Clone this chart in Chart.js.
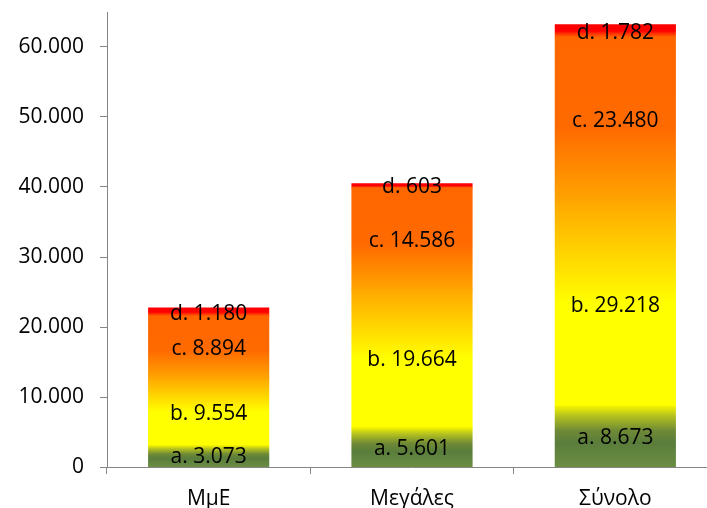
<!DOCTYPE html>
<html>
<head>
<meta charset="utf-8">
<script src="https://cdn.jsdelivr.net/npm/chart.js@4/dist/chart.umd.min.js"></script>
<style>
  html, body { margin: 0; padding: 0; background: #ffffff; overflow: hidden; width: 707px; height: 508px; }
  #wrap { width: 717px; height: 508px; }
</style>
</head>
<body>
<div id="wrap"><canvas id="chart" width="717" height="508"></canvas></div>
<script>
// Categories and stacked components (a..d)
const categories = ['ΜμΕ', 'Μεγάλες', 'Σύνολο'];
const seriesNames = ['a', 'b', 'c', 'd'];
const seriesA = [3073, 5601, 8673];
const seriesB = [9554, 19664, 29218];
const seriesC = [8894, 14586, 23480];
const seriesD = [1180, 603, 1782];
const yTickValues = [0, 10000, 20000, 30000, 40000, 50000, 60000];

const FONT = { family: '"Open Sans", "Noto Sans", sans-serif', size: 21 };
const AXIS_GREY = '#868686';
const PLOT_TOP = 12;

// Gradient stops per component, from segment bottom (0) to top (1)
const segmentStops = [
  [[0, '#6b8d43'], [0.4, '#5a7d3c'], [0.6, '#6f8a36'], [0.85, '#b8c41e'], [1, '#f2f200']],
  [[0, '#ffff00'], [0.5, '#ffff00'], [1, '#ffa800']],
  [[0, '#ffa500'], [0.45, '#ff6a00'], [1, '#ff6600']],
  [[0, '#ff6600'], [0.3, '#ff3300'], [0.5, '#ff0000'], [1, '#ff0000']]
];

const allSeries = [seriesA, seriesB, seriesC, seriesD];

function formatThousands(v) {
  return String(Math.round(v)).replace(/\B(?=(\d{3})+(?!\d))/g, '.');
}

function segmentFill(context) {
  const chart = context.chart;
  if (!chart.chartArea || !chart.scales.y) return '#ffff00';
  const di = context.datasetIndex;
  const i = context.dataIndex;
  let base = 0;
  for (let k = 0; k < di; k++) base += allSeries[k][i];
  const top = base + allSeries[di][i];
  const y0 = chart.scales.y.getPixelForValue(base);
  const y1 = chart.scales.y.getPixelForValue(top);
  if (!isFinite(y0) || !isFinite(y1) || y0 === y1) return segmentStops[di][0][1];
  const g = chart.ctx.createLinearGradient(0, y0, 0, y1);
  segmentStops[di].forEach(([p, c]) => g.addColorStop(p, c));
  return g;
}

// Writes "a. 3.073" style labels at the middle of each stacked segment
const segmentLabels = {
  id: 'segmentLabels',
  afterDatasetsDraw(chart) {
    const ctx = chart.ctx;
    ctx.save();
    ctx.font = `${FONT.size}px ${FONT.family}`;
    ctx.fillStyle = '#000000';
    ctx.textAlign = 'center';
    ctx.textBaseline = 'middle';
    chart.data.datasets.forEach((ds, di) => {
      const meta = chart.getDatasetMeta(di);
      meta.data.forEach((el, i) => {
        const props = el.getProps(['x', 'y', 'base'], true);
        const cy = (props.y + props.base) / 2 + 1.5;
        ctx.fillText(seriesNames[di] + '. ' + formatThousands(ds.data[i]), props.x, cy);
      });
    });
    ctx.restore();
  }
};

new Chart(document.getElementById('chart'), {
  type: 'bar',
  data: {
    labels: categories,
    datasets: allSeries.map((values, di) => ({
      label: seriesNames[di],
      data: values,
      backgroundColor: segmentFill,
      borderWidth: 0,
      inflateAmount: 0.6,
      categoryPercentage: 1,
      barPercentage: 0.59
    }))
  },
  options: {
    responsive: false,
    animation: false,
    devicePixelRatio: 1,
    layout: { padding: { top: 0, left: 0, right: 0, bottom: 0 } },
    plugins: {
      legend: { display: false },
      tooltip: { enabled: false }
    },
    scales: {
      x: {
        stacked: true,
        grid: { display: true, drawOnChartArea: false, drawTicks: true, tickLength: 7, color: AXIS_GREY, offset: true },
        border: { display: true, color: AXIS_GREY, width: 1 },
        ticks: { color: '#000000', font: FONT, padding: 12, maxRotation: 0 },
        afterFit(scale) { scale.height = 41; }
      },
      y: {
        stacked: true,
        min: 0,
        max: 65000,
        grid: { display: true, drawOnChartArea: false, drawTicks: true, tickLength: 7, color: AXIS_GREY },
        border: { display: true, color: AXIS_GREY, width: 1 },
        ticks: {
          stepSize: 10000,
          color: '#000000',
          font: FONT,
          padding: 16,
          callback: (v) => formatThousands(v)
        },
        afterBuildTicks(scale) {
          scale.ticks = yTickValues.map(v => ({ value: v }));
        },
        afterFit(scale) {
          scale.width = 107;
          scale.paddingTop = PLOT_TOP;
          scale.paddingBottom = 0;
        }
      }
    }
  },
  plugins: [segmentLabels]
});
</script>
</body>
</html>
